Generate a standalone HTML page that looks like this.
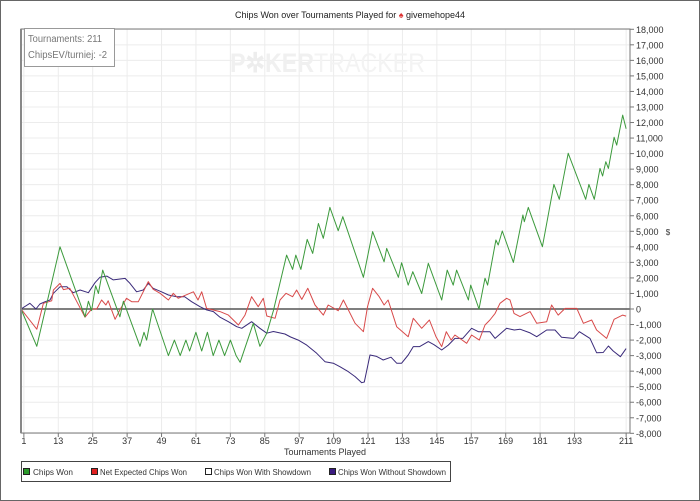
<!DOCTYPE html>
<html><head><meta charset="utf-8">
<style>
html,body{margin:0;padding:0;background:#fff;}
svg{display:block;font-family:"Liberation Sans",sans-serif;}
</style></head>
<body>
<svg id="chart" width="700" height="501" viewBox="0 0 700 501">
  <rect x="0.5" y="0.5" width="699" height="500" fill="#fff" stroke="#666"/>
  <text x="350" y="18" font-size="9" text-anchor="middle" fill="#222">Chips Won over Tournaments Played for <tspan fill="#d33">♠</tspan> givemehope44</text>
  <g id="grid"></g>
  <text x="230" y="72" font-size="27" font-weight="bold" fill="#f0f0f0" textLength="195" lengthAdjust="spacingAndGlyphs">P<tspan fill="#ededed">✲</tspan>KER<tspan font-weight="normal" fill="#f3f3f3">TRACKER</tspan></text>
  <g id="series"></g>
  <rect x="21" y="29" width="609" height="404" fill="none" stroke="#777" stroke-width="1"/>
  <line x1="21" y1="29" x2="21" y2="433" stroke="#888" stroke-width="2"/>
  <g id="yaxis"></g>
  <g id="xaxis"></g>
  <text x="668" y="235" font-size="8" fill="#333" text-anchor="middle">$</text>
  <text x="325" y="455" font-size="9" fill="#333" text-anchor="middle">Tournaments Played</text>
  <g>
    <rect x="24.5" y="28.5" width="90" height="38" fill="#fff" stroke="#999"/>
    <text x="28" y="42" font-size="10" fill="#777" textLength="74" lengthAdjust="spacingAndGlyphs">Tournaments: 211</text>
    <text x="28" y="58" font-size="10" fill="#777" textLength="79" lengthAdjust="spacingAndGlyphs">ChipsEV/turniej: -2</text>
  </g>
  <g>
    <rect x="21.5" y="461.5" width="429" height="20" fill="#fff" stroke="#444"/>
    <g><rect x="23.5" y="468.5" width="6" height="6" fill="#2a9a2a" stroke="#222"/><text x="33" y="475" font-size="8" fill="#333" textLength="40" lengthAdjust="spacingAndGlyphs">Chips Won</text></g>
    <g><rect x="91.5" y="468.5" width="6" height="6" fill="#e02020" stroke="#222"/><text x="100" y="475" font-size="8" fill="#333" textLength="87" lengthAdjust="spacingAndGlyphs">Net Expected Chips Won</text></g>
    <g><rect x="205.5" y="468.5" width="6" height="6" fill="#fff" stroke="#222"/><text x="214" y="475" font-size="8" fill="#333" textLength="97" lengthAdjust="spacingAndGlyphs">Chips Won With Showdown</text></g>
    <g><rect x="329.5" y="468.5" width="6" height="6" fill="#3a1a80" stroke="#222"/><text x="338" y="475" font-size="8" fill="#333" textLength="108" lengthAdjust="spacingAndGlyphs">Chips Won Without Showdown</text></g>
  </g>
</svg>
<script>
const xTicks = [1,13,25,37,49,61,73,85,97,109,121,133,145,157,169,181,193,211];
const yTicks = [18000,17000,16000,15000,14000,13000,12000,11000,10000,9000,8000,7000,6000,5000,4000,3000,2000,1000,0,-1000,-2000,-3000,-4000,-5000,-6000,-7000,-8000];

const wonT = [0,5.5,13.6,22.3,23.5,24.6,26,27,28.5,34.5,35.7,41.5,42.9,43.8,45.9,51.4,53.5,55.5,57.5,58.8,61,63,65,67,69,71,73,75,76.4,81,83.3,85.7,88,92.6,94.7,95.8,97.6,99.8,101.7,103.7,105.4,107.7,110.6,112.2,119.4,122.6,126.6,127.5,131.6,132.7,135,136.6,139.7,142,146.7,148.6,150.7,151.9,156,156.8,159.7,161.8,162.7,165.6,166.4,167.8,171.7,175,175.5,176.9,181.8,185.8,187.7,190.8,196.9,198,199.9,201.9,202.8,203.9,204.8,206.8,207.7,209.8,211];
const wonV = [0,-2400,4000,-500,500,-100,1500,1000,2500,-500,500,-2400,-1500,-2000,0,-3000,-2000,-3000,-2000,-2700,-1500,-2700,-1500,-3000,-2000,-3000,-2000,-3000,-3430,-920,-2400,-1560,-100,3470,2550,3470,2550,4480,3580,5500,4550,6540,5040,5940,2040,4980,3040,3900,2040,2980,1540,2400,1000,2940,580,2500,1540,2500,580,1540,0,1980,1540,4440,4120,5020,3000,6050,5620,6540,4010,8020,7060,10020,7060,8020,7060,9050,8560,9480,9050,11050,10550,12480,11600];

const evT = [0,5.5,7.8,10.7,11.3,13.6,14.8,17,22.3,24.6,26.4,28.1,29.6,30.4,32.8,34.5,36.8,38.6,40.9,44.4,46.1,48.5,51.4,53.1,54.8,60.1,61.7,63,64.7,69.4,72.3,75.8,78.1,80.4,82.7,84.5,85.7,88.6,90.3,92.4,94.7,96.1,97.9,100,102.5,105.4,107.1,110.6,112.4,116.5,119.4,120.8,122.6,124.9,126.6,128,131,135,136.8,139.7,142.4,144.7,146.7,148.3,150,151.3,153,155.4,157.1,159.8,161.8,163.5,165.3,167,169.3,170.5,171.9,174,177.5,179.8,183.3,185,187.3,189.7,193.8,196.1,199,200.7,204.2,206.8,209.8,211];
const evV = [0,-1300,370,530,1220,1650,1250,1330,-530,0,0,580,260,530,-660,-60,690,470,470,1760,1270,1010,580,1010,690,1110,580,1110,40,-170,-390,-1030,-390,790,150,690,-450,-600,580,1010,790,1220,620,1330,260,-390,260,-110,580,-920,-1460,150,1330,790,260,580,-1140,-1780,-600,-1240,-710,-1780,-2420,-1460,-2000,-1670,-1890,-2210,-1670,-2000,-1030,-710,-280,370,690,580,-280,-490,-170,-920,-820,260,-390,40,40,-920,-710,-1350,-1890,-660,-390,-460];

const noSdT = [0,3.1,5.2,6.6,8.4,10.1,11.3,13.6,16,18.2,20.6,23.5,25.8,27.5,29.9,32.2,36.3,38,40.3,42.6,44.4,46.1,49,51.4,54.3,57,59.5,62.4,64.7,67.1,69.4,72.3,75.2,77,80.4,83.3,85.7,88,92,94,96.7,99.6,103.1,106,108.9,111.2,114.1,116.5,118.8,119.7,121.7,124,126.3,129,131,132.7,135,136.8,139,142,144,146.7,149,151.3,154,157.1,159.5,163.5,165.3,169.3,172,174,177.5,179.8,183.3,186.2,188.5,192.6,194.7,198.4,200.7,203,204.8,206.5,209,211];
const noSdV = [0,370,0,320,470,580,1010,1430,1430,1050,1220,1050,1690,2040,2120,1870,1970,1650,1110,1220,1650,1330,1110,900,790,800,470,150,-60,-170,-530,-820,-1140,-1240,-820,-1240,-1560,-1450,-1610,-1800,-2000,-2320,-2850,-3390,-3490,-3710,-4030,-4350,-4740,-4700,-2960,-3050,-3280,-3100,-3490,-3490,-2960,-2420,-2420,-2100,-2300,-2640,-2320,-1890,-1890,-1240,-1460,-1460,-1890,-1240,-1350,-1300,-1540,-1780,-1350,-1350,-1820,-1890,-1460,-1890,-2810,-2800,-2380,-2700,-3070,-2550];

const NS = 'http://www.w3.org/2000/svg';
const X0 = 21, XPX = 2.868;
function xS(t){ return X0 + t*XPX; }
function yS(v){ return 309 - v*0.01554; }
function mk(tag, attrs, parent){ const e=document.createElementNS(NS,tag); for(const k in attrs) e.setAttribute(k,attrs[k]); parent.appendChild(e); return e; }
const grid=document.getElementById('grid'), yaxis=document.getElementById('yaxis'), xaxis=document.getElementById('xaxis'), series=document.getElementById('series');

yTicks.forEach(v=>{
  const y=yS(v);
  const g=mk('line',{x1:21,x2:630,y1:y,y2:y,stroke:'#ececec','stroke-width':1},grid);
  
  
  const tk=mk('line',{x1:630,x2:634,y1:y,y2:y,stroke:'#777'},yaxis);
  
  
  const t=mk('text',{x:636,y:y+3.5,'font-size':9,fill:'#333'},yaxis);
  
  
  t.textContent=v.toLocaleString('en-US');
});
xTicks.forEach(v=>{
  const x=xS(v);
  const g=mk('line',{x1:x,x2:x,y1:29,y2:433,stroke:'#ececec','stroke-width':1},grid);
  
  
  const tk=mk('line',{x1:x,x2:x,y1:433,y2:437,stroke:'#777'},xaxis);
  
  
  const t=mk('text',{x:x,y:444,'font-size':9,fill:'#333','text-anchor':'middle'},xaxis);
  
  
  t.textContent=v;
});
const zl=mk('line',{x1:21,x2:630,y1:yS(0),y2:yS(0),stroke:'#555','stroke-width':1.5},series);



function line(ts,vs,color,name){
  const d=ts.map((t,i)=>(i?'L':'M')+xS(t).toFixed(1)+' '+yS(vs[i]).toFixed(1)).join(' ');
  const p=mk('path',{d:d,fill:'none',stroke:color,'stroke-width':1,'stroke-linejoin':'round'},series);
  
  
}
line(noSdT,noSdV,'#3a2a7a','line-chips-won-without-showdown');
line(evT,evV,'#d84a4a','line-net-expected-chips-won');
line(wonT,wonV,'#3c9a3c','line-chips-won');
</script>
</body></html>
